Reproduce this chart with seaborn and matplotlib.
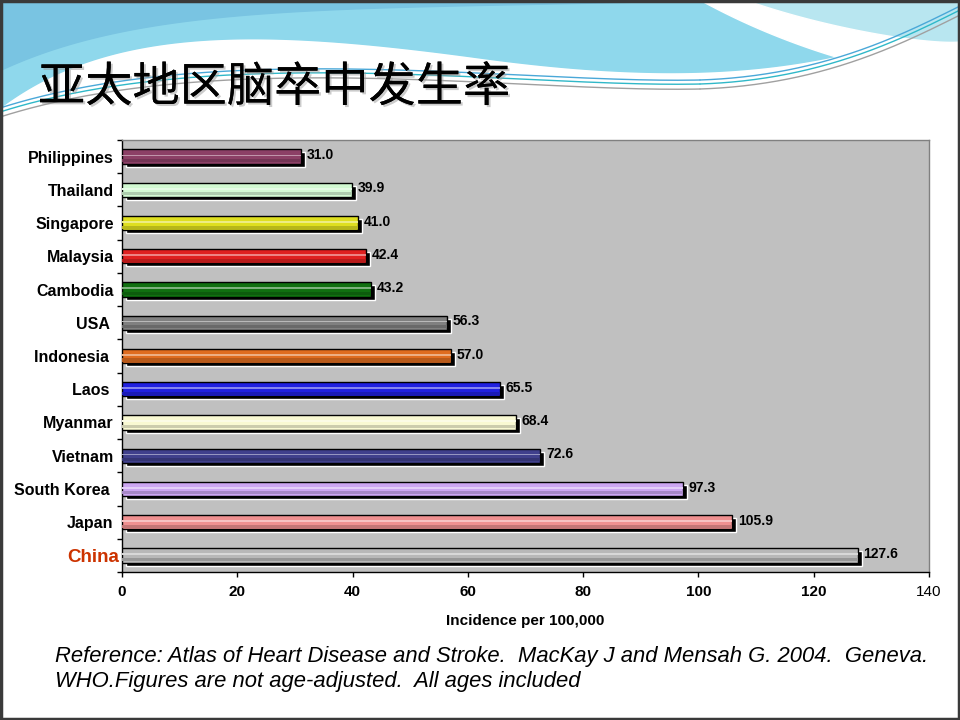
import numpy as np
import pandas as pd
import matplotlib
matplotlib.use("Agg")
import matplotlib.pyplot as plt
import matplotlib.colors as mcolors
import matplotlib.transforms as mtransforms
import matplotlib.patheffects as pe
import seaborn as sns

# data, top to bottom as in the chart
countries = ["Philippines", "Thailand", "Singapore", "Malaysia", "Cambodia", "USA",
             "Indonesia", "Laos", "Myanmar", "Vietnam", "South Korea", "Japan", "China"]
incidence = [31.0, 39.9, 41.0, 42.4, 43.2, 56.3, 57.0, 65.5, 68.4, 72.6, 97.3, 105.9, 127.6]
bar_colors = ["#993366", "#CCFFCC", "#FFFF00", "#FF0000", "#008000", "#808080",
              "#FF6600", "#0000FF", "#FFFFCC", "#333399", "#CC99FF", "#FF8080", "#B8B8B8"]
x_ticks = [0, 20, 40, 60, 80, 100, 120, 140]

title = "亚太地区脑卒中发生率"
x_label = "Incidence per 100,000"
note = ("Reference: Atlas of Heart Disease and Stroke.  MacKay J and Mensah G. 2004.  Geneva.\n"
        "WHO.Figures are not age-adjusted.  All ages included")

df = pd.DataFrame({"country": countries, "incidence": incidence})

sns.set_theme(style="white")
plt.rcParams["font.family"] = ["Liberation Sans", "Noto Sans CJK SC", "DejaVu Sans"]
plt.rcParams["text.color"] = "black"
plt.rcParams["xtick.color"] = "black"
plt.rcParams["ytick.color"] = "black"
plt.rcParams["axes.labelcolor"] = "black"


def mix(c, amt, target=1.0):
    r, g, b = mcolors.to_rgb(c)
    return tuple(x + (target - x) * amt for x in (r, g, b))


def bezier(p0, p1, p2, p3, n=200):
    t = np.linspace(0, 1, n)[:, None]
    pts = ((1 - t) ** 3) * np.array(p0) + 3 * ((1 - t) ** 2) * t * np.array(p1) \
        + 3 * (1 - t) * t ** 2 * np.array(p2) + t ** 3 * np.array(p3)
    return pts[:, 0], pts[:, 1]


fig = plt.figure(figsize=(9.6, 7.2), dpi=100)

# slide background with the wave header
bg = fig.add_axes([0, 0, 1, 1], zorder=-5)
bg.set_xlim(0, 960)
bg.set_ylim(720, 0)
bg.axis("off")
bx1, by1 = bezier((0, 108), (110, 25), (260, 28), (480, 58))
bx2, by2 = bezier((480, 58), (700, 88), (830, 70), (960, 18))
bx = np.concatenate([bx1, bx2])
by = np.concatenate([by1, by2])
bg.fill_between(bx, 0, by, color="#8fd8ec", zorder=1)
# deeper blue top-left
dx, dy = bezier((0, 70), (150, 0), (350, 10), (700, 0))
bg.fill_between(dx, 0, dy, color="#79c4e2", zorder=2)
# lighter right part
rx, ry = bezier((700, 0), (800, 50), (900, 62), (960, 50))
bg.fill_between(rx, 0, ry, color="#b8e6f0", zorder=2)
# white swoosh
wx1, wy1 = bezier((700, 0), (790, 50), (900, 80), (960, 78))
wx2, wy2 = bezier((745, 0), (830, 30), (930, 45), (960, 42))
bg.fill(np.concatenate([wx1, wx2[::-1]]), np.concatenate([wy1, wy2[::-1]]),
        color="white", zorder=3)
# thin lines along the curve
for off, col in [(0, "#30b8c8"), (5, "#a0a0a0"), (-4, "#4aa8d8")]:
    lx, ly = bezier((0, 112 + off), (220, 42 + off), (520, 88 + off), (700, 84 + off))
    bg.plot(lx, ly, color=col, lw=1, zorder=4)
    lx, ly = bezier((700, 84 + off), (820, 80 + off), (900, 40 + off), (960, 10 + off))
    bg.plot(lx, ly, color=col, lw=1, zorder=4)
bg.add_patch(plt.Rectangle((1, 1), 958, 718, fill=False, ec="#3a3a3a", lw=2.5, zorder=6))

bg.text(38, 88, title, fontsize=34, family=["Noto Sans CJK SC"], va="center", ha="left",
        color="black", zorder=7,
        path_effects=[pe.withSimplePatchShadow(offset=(1.5, -1.5), shadow_rgbFace="#999999", alpha=0.5),
                      pe.Normal()])

bg.text(55, 669, note, fontsize=15.8, style="italic", va="center", ha="left",
        linespacing=1.25, color="black", zorder=7)

# chart
ax = fig.add_axes([122 / 960, 1 - 572 / 720, 807 / 960, 432 / 720])
ax.set_facecolor("#C0C0C0")

bw = 0.43
# shadow bars
sns.barplot(data=df, x="incidence", y="country", orient="h", color="black",
            width=bw, ax=ax, zorder=2)
shift = mtransforms.ScaledTranslation(0.04, -0.03, fig.dpi_scale_trans)
for p in ax.patches:
    p.set_transform(ax.transData + shift)

# coloured bars
sns.barplot(data=df, x="incidence", y="country", hue="country", orient="h",
            palette=bar_colors, width=bw, edgecolor="black", linewidth=1,
            legend=False, ax=ax, zorder=3)
n1 = len(ax.patches)
# slightly darker lower band for the tube look
sns.barplot(data=df, x="incidence", y="country", hue="country", orient="h",
            palette=[mix(c, 0.18, 0.0) for c in bar_colors], width=bw * 0.22,
            linewidth=0, legend=False, ax=ax, zorder=4)
n2 = len(ax.patches)
down = mtransforms.ScaledTranslation(0, -0.04, fig.dpi_scale_trans)
for p in ax.patches[n1:n2]:
    p.set_transform(ax.transData + down)
# light highlight line
sns.barplot(data=df, x="incidence", y="country", hue="country", orient="h",
            palette=[mix(c, 0.45) for c in bar_colors], width=bw * 0.12,
            linewidth=0, legend=False, ax=ax, zorder=5)
up = mtransforms.ScaledTranslation(0, 0.012, fig.dpi_scale_trans)
for p in ax.patches[n2:]:
    p.set_transform(ax.transData + up)

for i, v in enumerate(incidence):
    ax.annotate(f"{v:.1f}", (v, i), xytext=(4, 1), textcoords="offset points",
                ha="left", va="center", fontsize=10, fontweight="bold", zorder=6)

ax.set_xlim(0, 140)
ax.set_ylim(12.5, -0.5)
ax.set_xticks(x_ticks)
ax.set_xticklabels([str(t) for t in x_ticks])
for lab in ax.get_xticklabels()[:-1]:
    lab.set_fontweight("bold")
ax.tick_params(axis="x", direction="out", length=3.5, width=1, color="black",
               labelsize=11, pad=6, bottom=True)

ax.set_yticks(range(len(countries)))
ax.set_yticklabels([c + " " if c in ("USA", "Indonesia", "Laos", "South Korea") else c
                    for c in countries])
ax.set_yticks(np.arange(-0.5, len(countries), 1), minor=True)
ax.tick_params(axis="y", which="major", length=0, labelsize=11.5, pad=6)
ax.tick_params(axis="y", which="minor", direction="out", length=3.5, width=1,
               color="black", left=True)
for lab in ax.get_yticklabels():
    lab.set_fontweight("bold")
china = ax.get_yticklabels()[-1]
china.set_color("#CC3300")
china.set_fontsize(13.5)
china.set_transform(china.get_transform() +
                    mtransforms.ScaledTranslation(0.05, 0, fig.dpi_scale_trans))

ax.set_xlabel(x_label, fontsize=11, fontweight="bold", labelpad=11)
ax.set_ylabel("")

for side in ["left", "bottom"]:
    ax.spines[side].set_color("black")
    ax.spines[side].set_linewidth(1)
for side in ["top", "right"]:
    ax.spines[side].set_color("#808080")
    ax.spines[side].set_linewidth(1)

fig.savefig("out.png", dpi=100)
